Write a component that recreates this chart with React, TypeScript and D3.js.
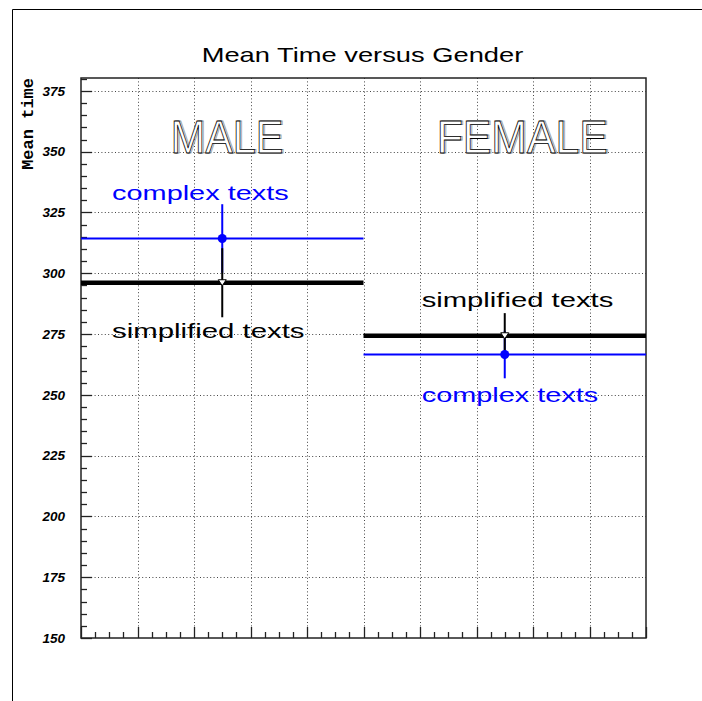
import React from 'react';
import * as d3 from 'd3';

const categories = ['MALE', 'FEMALE'];
const complexMeans = [314.3, 266.6];
const complexErrors = [14.1, 9.8];
const simplifiedMeans = [296.1, 274.3];
const simplifiedErrors = [14.2, 9.3];
const categoryLabelX = [0.517, 1.562];
const categoryLabelY = 349.6;
const annotationX = [0.11, 1.206];
const complexLabelY = [330.1, 247.2];
const simplifiedLabelY = [273.2, 286.0];
const yTickValues = [150, 175, 200, 225, 250, 275, 300, 325, 350, 375];
const yDomain = [150, 380.3];
const xDomain = [0, 2];
const titleText = 'Mean Time versus Gender';
const yTitleText = 'Mean time';
const complexText = 'complex texts';
const simplifiedText = 'simplified texts';

const L = 81, R = 646, T = 78, B = 638;

export default function App() {
  const x = d3.scaleLinear().domain(xDomain).range([L, R]);
  const y = d3.scaleLinear().domain(yDomain).range([B, T]);
  const xMajor = d3.range(0, 10.5).map((i) => i * 0.2);
  const xMinor = d3.range(0, 40.5).map((i) => i * 0.05);
  const yMinor = d3.range(150, yDomain[1], 5);
  const font = "'Liberation Sans', Arial, sans-serif";
  const blue = '#0000ff';

  const complexW = [176.6, 176.6];
  const simplifiedW = [192.5, 191.6];
  const catW = [112.6, 171];

  return (
    <svg width={702} height={701} style={{ position: 'absolute', left: 0, top: 0, background: '#fff' }}>
      <rect x={0} y={0} width={702} height={701} fill="#fff" />
      <path d="M12.5,701 V9.5 H702" fill="none" stroke="#000" strokeWidth={1} />
      <text x={362.5} y={61.7} textAnchor="middle" fontFamily={font} fontSize={21} textLength={321.6} lengthAdjust="spacingAndGlyphs" fill="#000">{titleText}</text>

      {/* grid */}
      {xMajor.filter((v) => v > 0.001 && v < 1.999).map((v, i) => (
        <line key={'gx' + i} x1={Math.round(x(v)) + 0.5} x2={Math.round(x(v)) + 0.5} y1={T} y2={B} stroke="#444" strokeWidth={1} strokeDasharray="1 2.4" />
      ))}
      {yTickValues.filter((v) => v > 150).map((v, i) => (
        <line key={'gy' + i} x1={L} x2={R} y1={Math.round(y(v)) + 0.5} y2={Math.round(y(v)) + 0.5} stroke="#444" strokeWidth={1} strokeDasharray="1 2.4" />
      ))}

      {/* ticks */}
      {yMinor.map((v, i) => {
        const major = yTickValues.includes(v);
        const yy = Math.round(y(v)) + 0.5;
        return <line key={'ty' + i} x1={L} x2={L + (major ? 11 : 6)} y1={yy} y2={yy} stroke="#222" strokeWidth={1.3} />;
      })}
      {xMinor.map((v, i) => {
        const major = i % 4 === 0;
        const xx = Math.round(x(v)) + 0.5;
        return <line key={'tx' + i} x1={xx} x2={xx} y1={B} y2={B - (major ? 11 : 6)} stroke="#222" strokeWidth={1.3} />;
      })}
      <rect x={L} y={T} width={R - L} height={B - T} fill="none" stroke="#222" strokeWidth={1.5} />

      {/* y tick labels */}
      {yTickValues.map((v, i) => (
        <text key={'yl' + i} x={65} y={y(v)} dy="0.35em" textAnchor="end" fontFamily={font} fontWeight="bold" fontStyle="italic" fontSize={13.5} fill="#000">{v}</text>
      ))}
      <text transform={`translate(32.5,${T}) rotate(-90)`} textAnchor="end" fontFamily="'Liberation Mono', 'DejaVu Sans Mono', monospace" fontWeight="bold" fontSize={17} fill="#000">{yTitleText}</text>

      {/* category labels (outlined) */}
      {categories.map((c, i) => (
        <g key={'cat' + i}>
          <text x={x(categoryLabelX[i]) + 1.5} y={y(categoryLabelY) + 0.5} textAnchor="middle" fontFamily={font} fontSize={46} textLength={catW[i]} lengthAdjust="spacingAndGlyphs" fill="none" stroke="#999" strokeWidth={0.9}>{c}</text>
          <text x={x(categoryLabelX[i])} y={y(categoryLabelY)} textAnchor="middle" fontFamily={font} fontSize={46} textLength={catW[i]} lengthAdjust="spacingAndGlyphs" fill="#fff" stroke="#000" strokeWidth={0.8}>{c}</text>
        </g>
      ))}

      {/* complex series (blue) */}
      {categories.map((c, i) => (
        <g key={'cx' + i}>
          <line x1={x(i)} x2={x(i + 1)} y1={y(complexMeans[i])} y2={y(complexMeans[i])} stroke={blue} strokeWidth={2} />
          <line x1={x(i + 0.5)} x2={x(i + 0.5)} y1={y(complexMeans[i] - complexErrors[i])} y2={y(complexMeans[i] + complexErrors[i])} stroke={blue} strokeWidth={2} />
        </g>
      ))}
      {/* simplified series (black) */}
      {categories.map((c, i) => (
        <g key={'sx' + i}>
          <line x1={x(i)} x2={x(i + 1)} y1={y(simplifiedMeans[i])} y2={y(simplifiedMeans[i])} stroke="#000" strokeWidth={4.5} />
          <line x1={x(i + 0.5)} x2={x(i + 0.5)} y1={y(simplifiedMeans[i] - simplifiedErrors[i])} y2={y(simplifiedMeans[i] + simplifiedErrors[i])} stroke="#000" strokeWidth={2} />
        </g>
      ))}
      {categories.map((c, i) => {
        const cx = x(i + 0.5);
        const sy = y(simplifiedMeans[i]);
        return (
          <g key={'mk' + i}>
            <circle cx={cx} cy={y(complexMeans[i])} r={4.5} fill={blue} />
            <path d={`M${cx - 4},${sy - 3} L${cx + 4},${sy - 3} L${cx},${sy + 3} Z`} fill="#fff" stroke="#000" strokeWidth={1} />
          </g>
        );
      })}

      {/* annotations */}
      {categories.map((c, i) => (
        <g key={'an' + i}>
          <text x={x(annotationX[i])} y={y(complexLabelY[i])} fontFamily={font} fontSize={21} textLength={complexW[i]} lengthAdjust="spacingAndGlyphs" fill={blue}>{complexText}</text>
          <text x={x(annotationX[i])} y={y(simplifiedLabelY[i])} fontFamily={font} fontSize={21} textLength={simplifiedW[i]} lengthAdjust="spacingAndGlyphs" fill="#000">{simplifiedText}</text>
        </g>
      ))}
    </svg>
  );
}
